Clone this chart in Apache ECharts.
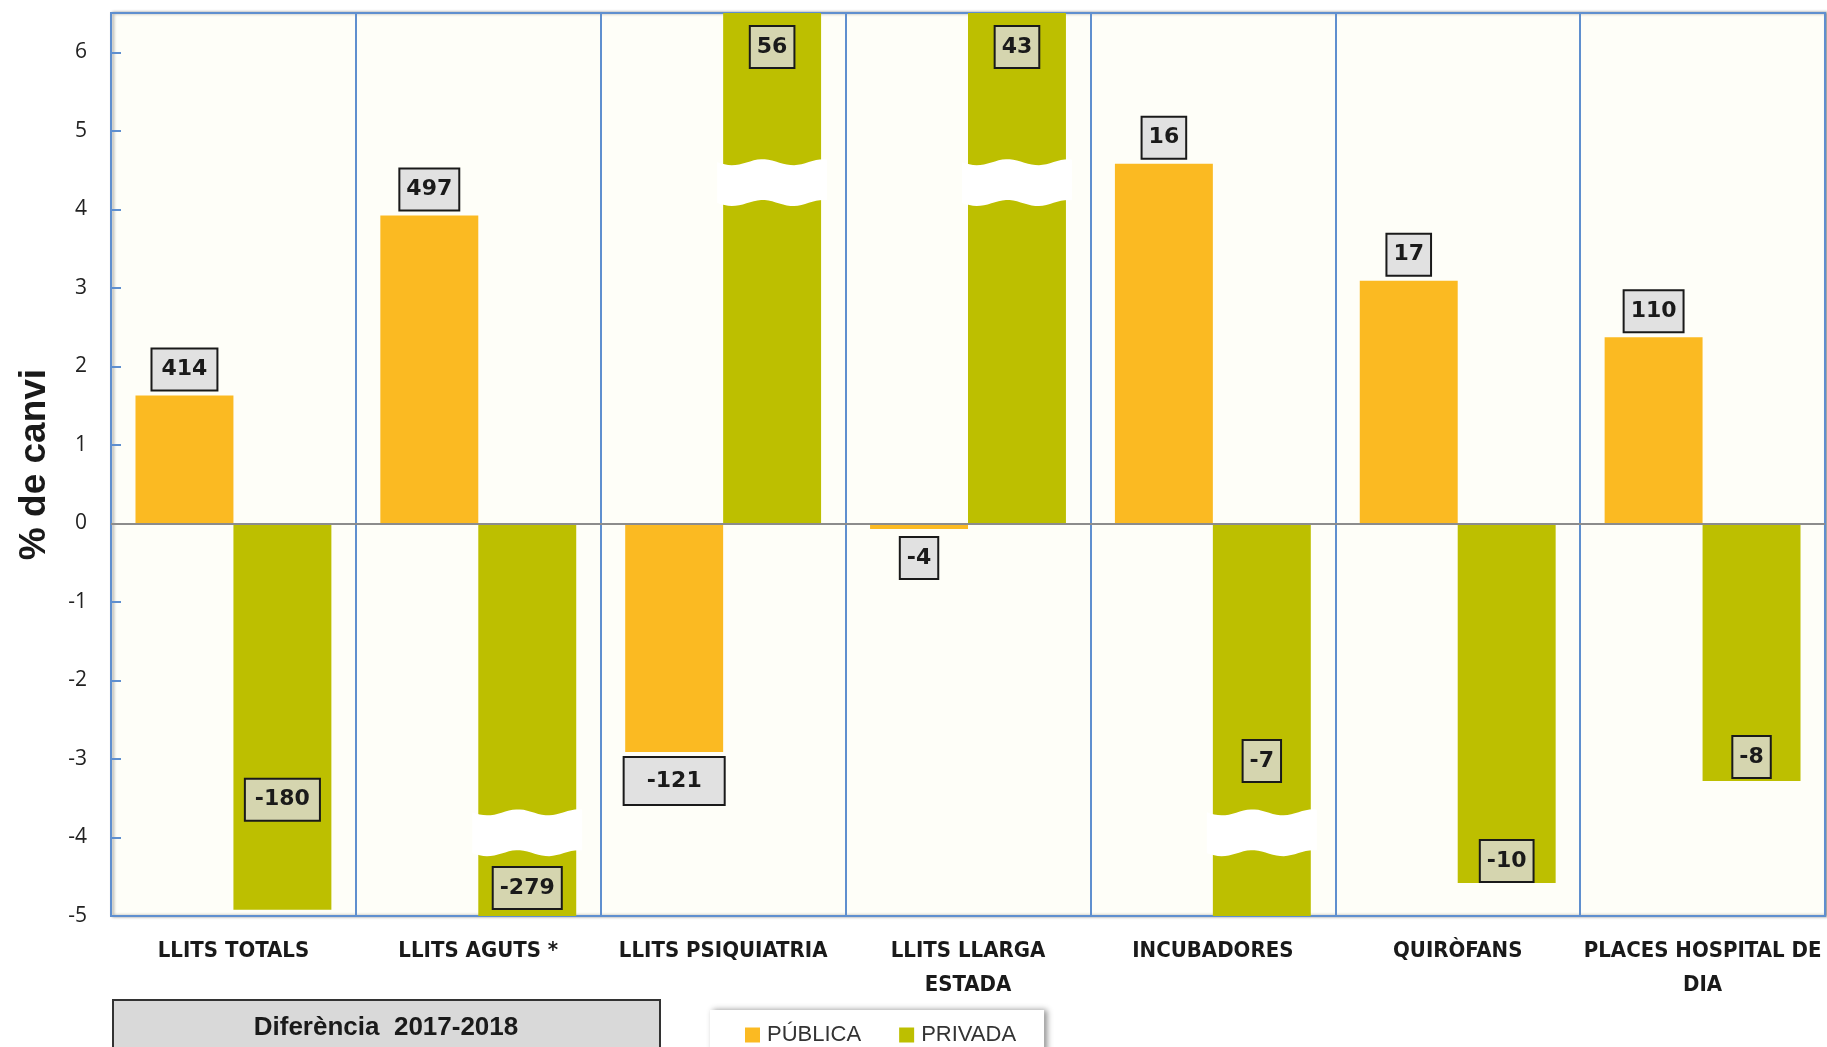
<!DOCTYPE html>
<html><head><meta charset="utf-8">
<script src="https://cdn.jsdelivr.net/npm/echarts@6/dist/echarts.min.js"></script>
<style>html,body{margin:0;padding:0;background:#fff}#c{width:1827px;height:1047px}</style>
</head><body><div id="c"></div>
<script>
// ---- data ----
const categories = ['LLITS TOTALS', 'LLITS AGUTS *', 'LLITS PSIQUIATRIA', 'LLITS LLARGA\nESTADA', 'INCUBADORES', 'QUIRÒFANS', 'PLACES HOSPITAL DE\nDIA'];
const seriesNames = ['PÚBLICA', 'PRIVADA'];
// % change 2017-2018 (bars beyond the axis range are drawn broken)
const pctPublica = [1.63, 3.92, -2.91, -0.07, 4.58, 3.09, 2.37];
const pctPrivada = [-4.92, -7.5, 9.5, 8.0, -8.5, -4.58, -3.28];
// absolute difference 2017-2018 (label text)
const diffPublica = [414, 497, -121, -4, 16, 17, 110];
const diffPrivada = [-180, -279, 56, 43, -7, -10, -8];
const yMin = -5, yMax = 6.5, yStep = 1;
const boxTitle = 'Diferència  2017-2018';
const yName = '% de canvi';

// ---- styling ----
const C_PUB = '#FBBA22', C_PRI = '#BDBF00';
const BLUE = '#5F8FCF';
const BREAK_UP = [4.08, 4.6], BREAK_DOWN = [-4.2, -3.68];
const labelBase = {
  show: true, fontFamily: '"DejaVu Sans", sans-serif', fontWeight: 'bold', fontSize: 22,
  lineHeight: 22, color: '#1a1a1a', borderColor: '#1a1a1a', borderWidth: 2, padding: [9, 6]
};
const pubOverrides = {0: {padding: [9, 9]}, 2: {padding: [12, 22]}, 3: {distance: 9}};
const priOverrides = {0: {distance: 90, padding: [9, 9]}, 1: {distance: 8}, 4: {distance: 135}, 5: {distance: 2}};

function pubItems() {
  return pctPublica.map((v, i) => ({
    value: v,
    label: Object.assign({}, labelBase, {
      backgroundColor: '#E1E1E1', position: v >= 0 ? 'top' : 'bottom', distance: 6,
      formatter: String(diffPublica[i])
    }, pubOverrides[i] || {})
  }));
}
function priItems() {
  return pctPrivada.map((v, i) => {
    let pos, dist;
    if (v > yMax) { pos = 'insideTop'; dist = 14; }
    else if (v >= 0) { pos = 'top'; dist = 6; }
    else { pos = 'insideBottom'; dist = 4; }
    return {
      value: v,
      label: Object.assign({}, labelBase, {
        backgroundColor: '#D5D5AF', position: pos, distance: dist,
        formatter: String(diffPrivada[i])
      }, priOverrides[i] || {})
    };
  });
}

const breakData = [];
[pctPublica, pctPrivada].forEach((arr, s) => arr.forEach((v, i) => {
  if (v > yMax) breakData.push([i, s, BREAK_UP[0], BREAK_UP[1]]);
  else if (v < yMin) breakData.push([i, s, BREAK_DOWN[0], BREAK_DOWN[1]]);
}));

function renderBreak(params, api) {
  const cat = api.value(0), s = api.value(1);
  const top = api.coord([cat, api.value(3)]);
  const bot = api.coord([cat, api.value(2)]);
  const band = api.size([1, 0])[0];
  const barW = band * 0.4;
  const x0 = (s === 0 ? top[0] - barW : top[0]) - 6;
  const w = barW + 12;
  const amp = 3, period = barW * 0.62, N = 30;
  const pts = [];
  for (let k = 0; k <= N; k++) { const x = x0 + w * k / N; pts.push([x, top[1] + amp * Math.sin(2 * Math.PI * (x - x0) / period)]); }
  for (let k = N; k >= 0; k--) { const x = x0 + w * k / N; pts.push([x, bot[1] + amp * Math.sin(2 * Math.PI * (x - x0) / period)]); }
  return {type: 'polygon', shape: {points: pts}, style: {fill: '#ffffff'}};
}

const chart = echarts.init(document.getElementById('c'), null, {renderer: 'canvas'});
chart.setOption({
  animation: false,
  backgroundColor: '#ffffff',
  grid: {
    left: 111, right: 2, top: 13, bottom: 131, show: true, containLabel: false, outerBoundsMode: 'none',
    backgroundColor: '#FEFEF8', borderColor: BLUE, borderWidth: 2,
    shadowColor: 'rgba(0,0,0,0.35)', shadowBlur: 3, shadowOffsetX: 2
  },
  legend: {
    data: seriesNames, left: 710, top: 1010, orient: 'horizontal',
    icon: 'rect', itemWidth: 15, itemHeight: 15, itemGap: 38,
    padding: [14, 28, 26, 35], backgroundColor: '#ffffff',
    shadowColor: 'rgba(0,0,0,0.45)', shadowBlur: 6, shadowOffsetX: 3, shadowOffsetY: 0,
    textStyle: {fontFamily: '"Liberation Sans", Arial, sans-serif', fontSize: 22, color: '#333', padding: [0, 0, 0, 2]}
  },
  xAxis: {
    type: 'category', data: categories,
    axisLine: {show: false, onZero: false}, axisTick: {show: false},
    splitLine: {show: true, interval: 0, lineStyle: {color: BLUE, width: 2}},
    axisLabel: {
      interval: 0, margin: 18, color: '#1a1a1a', fontSize: 22, lineHeight: 34, fontWeight: 'bold',
      fontFamily: '"Liberation Sans Narrow", "DejaVu Sans Condensed", sans-serif'
    }
  },
  yAxis: {
    type: 'value', min: yMin, max: yMax, interval: yStep,
    name: yName, nameLocation: 'middle', nameGap: 58,
    nameTextStyle: {fontSize: 37, fontWeight: 'bold', color: '#1a1a1a', fontFamily: '"Liberation Sans", Arial, sans-serif'},
    axisLine: {show: true, lineStyle: {color: BLUE, width: 2}},
    axisTick: {show: true, inside: true, length: 10, lineStyle: {color: BLUE, width: 2}},
    splitLine: {show: false},
    axisLabel: {showMaxLabel: false, margin: 24, fontSize: 21, color: '#222', fontFamily: '"Open Sans", sans-serif'}
  },
  graphic: [
    {type: 'rect', shape: {x: 113, y: 1000, width: 547, height: 90}, style: {fill: '#D9D9D9', stroke: '#333', lineWidth: 2}, z: 10},
    {type: 'text', x: 386, y: 1028, style: {text: boxTitle, align: 'center', verticalAlign: 'middle', fill: '#1a1a1a',
      font: 'bold 26px "Liberation Sans", Arial, sans-serif'}, z: 11}
  ],
  series: [
    {name: seriesNames[0], type: 'bar', data: pubItems(), itemStyle: {color: C_PUB},
     barGap: '0%', barCategoryGap: '20%', clip: true, z: 2},
    {name: seriesNames[1], type: 'bar', data: priItems(), itemStyle: {color: C_PRI},
     barGap: '0%', barCategoryGap: '20%', clip: true, z: 2,
     markLine: {silent: true, symbol: ['none', 'none'], label: {show: false},
       lineStyle: {color: '#8C8C8C', width: 2, type: 'solid'}, data: [{yAxis: 0}]}},
    {type: 'custom', renderItem: renderBreak, data: breakData, encode: {x: 0, y: 2}, clip: false, z: 4, silent: true}
  ]
});
</script></body></html>
